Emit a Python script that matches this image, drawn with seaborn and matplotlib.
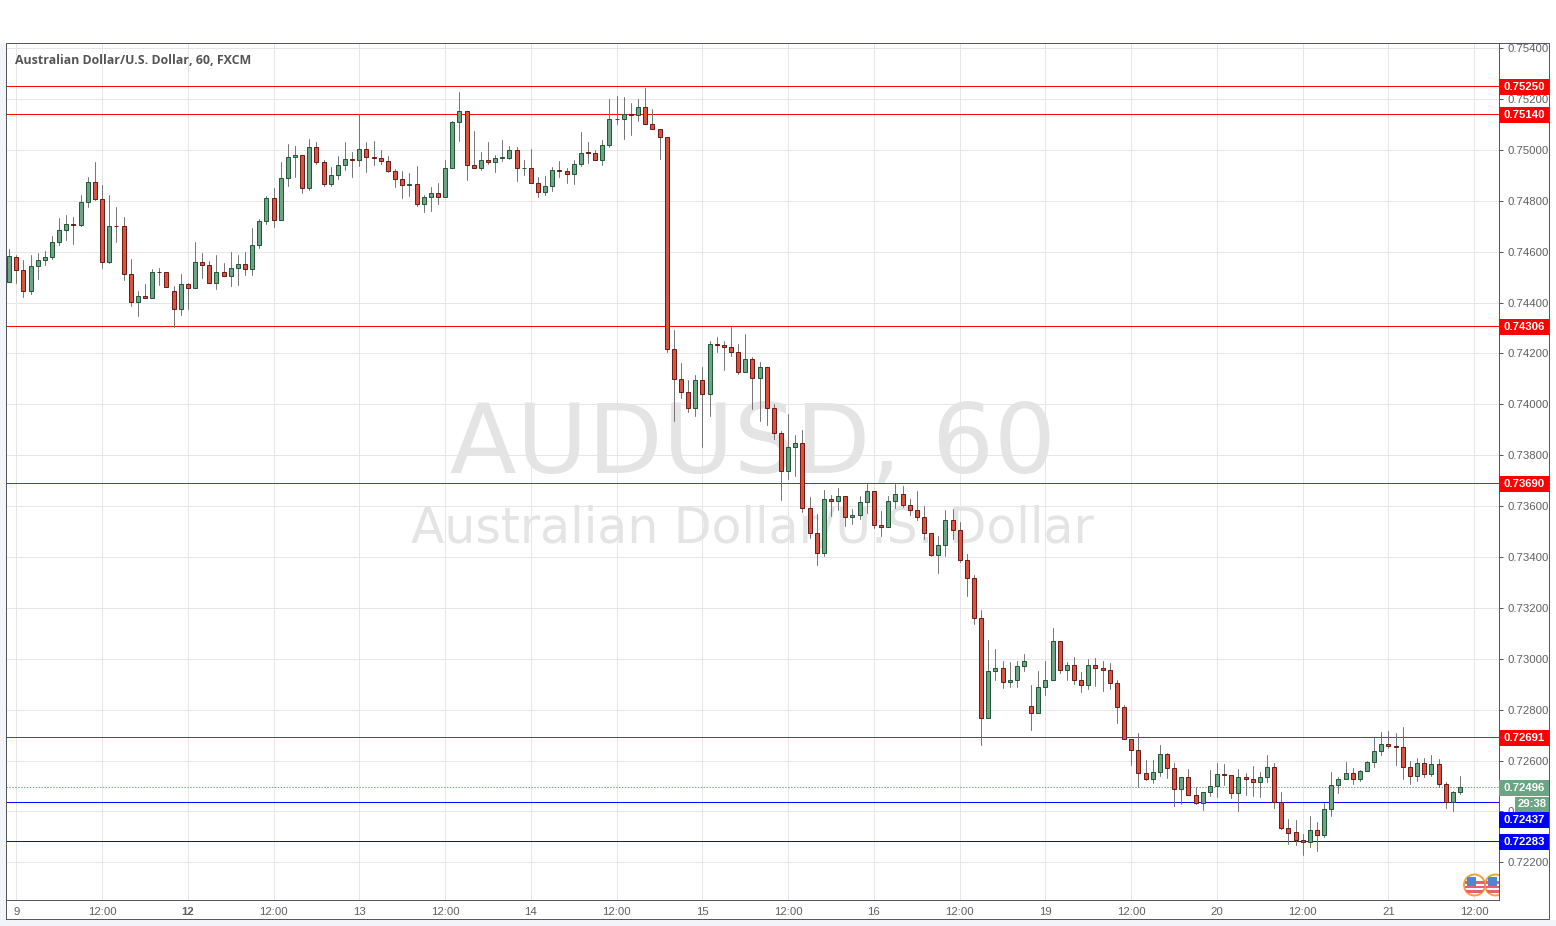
import numpy as np
import pandas as pd
import seaborn as sns
import matplotlib.pyplot as plt
from matplotlib.patches import Rectangle, Circle
from matplotlib.transforms import IdentityTransform

# AUD/USD hourly candles
opens = [
    0.74479, 0.74580, 0.74526, 0.74447, 0.74545, 0.74567, 0.74580, 0.74639, 0.74686, 0.74710, 0.74706, 0.74796,
    0.74875, 0.74808, 0.74561, 0.74702, 0.74702, 0.74514, 0.74404, 0.74424, 0.74416, 0.74522, 0.74522, 0.74447,
    0.74373, 0.74471, 0.74459, 0.74561, 0.74549, 0.74475, 0.74522, 0.74506, 0.74537, 0.74553, 0.74533, 0.74628,
    0.74722, 0.74812, 0.74726, 0.74890, 0.74973, 0.74980, 0.74851, 0.75012, 0.74953, 0.74867, 0.74902, 0.74940,
    0.74965, 0.74961, 0.75004, 0.74973, 0.74969, 0.74957, 0.74918, 0.74886, 0.74863, 0.74867, 0.74788, 0.74816,
    0.74831, 0.74816, 0.74929, 0.75110, 0.75153, 0.74941, 0.74929, 0.74961, 0.74952, 0.74969, 0.74970, 0.75000,
    0.74928, 0.74929, 0.74871, 0.74835, 0.74859, 0.74922, 0.74918, 0.74906, 0.74945, 0.74990, 0.74988, 0.74961,
    0.75020, 0.75120, 0.75122, 0.75141, 0.75137, 0.75169, 0.75102, 0.75082, 0.75051, 0.74216, 0.74098, 0.74047,
    0.73984, 0.74094, 0.74039, 0.74239, 0.74235, 0.74227, 0.74204, 0.74129, 0.74180, 0.74102, 0.74145, 0.73984,
    0.73886, 0.73737, 0.73831, 0.73847, 0.73592, 0.73494, 0.73416, 0.73627, 0.73620, 0.73639, 0.73557, 0.73565,
    0.73616, 0.73659, 0.73526, 0.73518, 0.73620, 0.73647, 0.73604, 0.73584, 0.73557, 0.73494, 0.73408, 0.73447,
    0.73545, 0.73506, 0.73388, 0.73318, 0.73161, 0.72769, 0.72953, 0.72965, 0.72910, 0.72918, 0.72973, 0.72816,
    0.72787, 0.72890, 0.72918, 0.73071, 0.72957, 0.72976, 0.72918, 0.72898, 0.72976, 0.72965, 0.72957, 0.72906,
    0.72812, 0.72686, 0.72643, 0.72553, 0.72528, 0.72557, 0.72627, 0.72569, 0.72490, 0.72537, 0.72463, 0.72435,
    0.72475, 0.72502, 0.72549, 0.72545, 0.72471, 0.72537, 0.72529, 0.72516, 0.72537, 0.72576, 0.72439, 0.72337,
    0.72318, 0.72289, 0.72282, 0.72329, 0.72309, 0.72408, 0.72506, 0.72529, 0.72553, 0.72529, 0.72561, 0.72596,
    0.72639, 0.72667, 0.72659, 0.72655, 0.72573, 0.72541, 0.72592, 0.72549, 0.72588, 0.72510, 0.72439, 0.72478,
]
highs = [
    0.74609, 0.74586, 0.74566, 0.74586, 0.74594, 0.74601, 0.74660, 0.74731, 0.74746, 0.74735, 0.74821, 0.74892,
    0.74954, 0.74860, 0.74821, 0.74774, 0.74735, 0.74570, 0.74445, 0.74472, 0.74531, 0.74535, 0.74522, 0.74464,
    0.74511, 0.74475, 0.74637, 0.74594, 0.74562, 0.74586, 0.74554, 0.74597, 0.74586, 0.74597, 0.74692, 0.74727,
    0.74817, 0.74852, 0.74954, 0.75025, 0.75017, 0.74980, 0.75041, 0.75029, 0.74962, 0.74931, 0.74974, 0.75029,
    0.74993, 0.75140, 0.75029, 0.75033, 0.75001, 0.74974, 0.74926, 0.74918, 0.74911, 0.74935, 0.74824, 0.74856,
    0.74868, 0.74962, 0.75115, 0.75229, 0.75153, 0.75076, 0.74993, 0.75029, 0.74978, 0.75037, 0.75017, 0.75013,
    0.74962, 0.75005, 0.74892, 0.74899, 0.74933, 0.74958, 0.74927, 0.74962, 0.75072, 0.75029, 0.75001, 0.75037,
    0.75201, 0.75213, 0.75209, 0.75186, 0.75201, 0.75244, 0.75162, 0.75082, 0.75051, 0.74291, 0.74162, 0.74094,
    0.74114, 0.74145, 0.74248, 0.74264, 0.74247, 0.74305, 0.74237, 0.74276, 0.74186, 0.74166, 0.74145, 0.74001,
    0.73895, 0.73962, 0.73880, 0.73899, 0.73637, 0.73570, 0.73664, 0.73644, 0.73672, 0.73639, 0.73590, 0.73641,
    0.73688, 0.73659, 0.73582, 0.73641, 0.73688, 0.73680, 0.73629, 0.73660, 0.73601, 0.73494, 0.73484, 0.73586,
    0.73590, 0.73539, 0.73413, 0.73329, 0.73193, 0.73072, 0.73040, 0.72993, 0.72986, 0.72990, 0.73017, 0.72899,
    0.72954, 0.72990, 0.73123, 0.73071, 0.72988, 0.73009, 0.72950, 0.73001, 0.73005, 0.72993, 0.72982, 0.72918,
    0.72818, 0.72686, 0.72707, 0.72601, 0.72601, 0.72660, 0.72631, 0.72592, 0.72537, 0.72566, 0.72498, 0.72478,
    0.72562, 0.72592, 0.72586, 0.72545, 0.72566, 0.72550, 0.72578, 0.72554, 0.72621, 0.72590, 0.72476, 0.72370,
    0.72366, 0.72310, 0.72382, 0.72358, 0.72433, 0.72554, 0.72537, 0.72593, 0.72570, 0.72565, 0.72600, 0.72691,
    0.72711, 0.72715, 0.72707, 0.72731, 0.72597, 0.72609, 0.72609, 0.72621, 0.72608, 0.72514, 0.72482, 0.72541,
]
lows = [
    0.74479, 0.74476, 0.74422, 0.74434, 0.74492, 0.74548, 0.74570, 0.74626, 0.74646, 0.74630, 0.74699, 0.74775,
    0.74803, 0.74536, 0.74556, 0.74638, 0.74489, 0.74387, 0.74348, 0.74416, 0.74416, 0.74469, 0.74463, 0.74305,
    0.74352, 0.74375, 0.74459, 0.74495, 0.74475, 0.74454, 0.74506, 0.74465, 0.74469, 0.74509, 0.74509, 0.74614,
    0.74709, 0.74697, 0.74726, 0.74858, 0.74893, 0.74830, 0.74842, 0.74944, 0.74858, 0.74858, 0.74885, 0.74920,
    0.74893, 0.74936, 0.74912, 0.74940, 0.74944, 0.74912, 0.74854, 0.74810, 0.74818, 0.74779, 0.74756, 0.74760,
    0.74787, 0.74816, 0.74929, 0.75034, 0.74881, 0.74929, 0.74920, 0.74944, 0.74912, 0.74956, 0.74966, 0.74877,
    0.74901, 0.74871, 0.74814, 0.74822, 0.74838, 0.74893, 0.74869, 0.74865, 0.74936, 0.74948, 0.74961, 0.74940,
    0.75010, 0.75101, 0.75042, 0.75058, 0.75112, 0.75102, 0.75082, 0.74963, 0.74206, 0.73936, 0.74025, 0.73970,
    0.73954, 0.73834, 0.73954, 0.74205, 0.74135, 0.74189, 0.74119, 0.74129, 0.73982, 0.73935, 0.73919, 0.73865,
    0.73625, 0.73707, 0.73719, 0.73575, 0.73476, 0.73370, 0.73405, 0.73562, 0.73586, 0.73523, 0.73531, 0.73550,
    0.73574, 0.73515, 0.73482, 0.73518, 0.73593, 0.73596, 0.73566, 0.73546, 0.73472, 0.73404, 0.73339, 0.73405,
    0.73472, 0.73382, 0.73246, 0.73136, 0.72661, 0.72769, 0.72916, 0.72885, 0.72889, 0.72889, 0.72952, 0.72719,
    0.72787, 0.72856, 0.72918, 0.72944, 0.72916, 0.72901, 0.72869, 0.72881, 0.72893, 0.72873, 0.72881, 0.72748,
    0.72686, 0.72583, 0.72498, 0.72522, 0.72511, 0.72540, 0.72532, 0.72422, 0.72430, 0.72463, 0.72431, 0.72407,
    0.72461, 0.72458, 0.72503, 0.72454, 0.72403, 0.72465, 0.72461, 0.72456, 0.72516, 0.72413, 0.72331, 0.72272,
    0.72268, 0.72229, 0.72260, 0.72244, 0.72299, 0.72382, 0.72472, 0.72529, 0.72507, 0.72519, 0.72558, 0.72574,
    0.72621, 0.72648, 0.72582, 0.72527, 0.72507, 0.72519, 0.72537, 0.72540, 0.72497, 0.72413, 0.72401, 0.72468,
]
closes = [
    0.74582, 0.74526, 0.74447, 0.74545, 0.74569, 0.74580, 0.74639, 0.74686, 0.74710, 0.74705, 0.74796, 0.74875,
    0.74808, 0.74561, 0.74702, 0.74701, 0.74514, 0.74404, 0.74424, 0.74416, 0.74522, 0.74520, 0.74463, 0.74373,
    0.74471, 0.74458, 0.74561, 0.74548, 0.74475, 0.74522, 0.74506, 0.74537, 0.74553, 0.74533, 0.74628, 0.74722,
    0.74812, 0.74726, 0.74890, 0.74973, 0.74980, 0.74851, 0.75012, 0.74953, 0.74867, 0.74902, 0.74941, 0.74965,
    0.74959, 0.75004, 0.74973, 0.74967, 0.74957, 0.74916, 0.74886, 0.74863, 0.74867, 0.74788, 0.74816, 0.74831,
    0.74816, 0.74929, 0.75110, 0.75153, 0.74941, 0.74929, 0.74961, 0.74952, 0.74969, 0.74973, 0.75000, 0.74929,
    0.74929, 0.74871, 0.74835, 0.74859, 0.74922, 0.74918, 0.74906, 0.74945, 0.74988, 0.74988, 0.74961, 0.75020,
    0.75122, 0.75122, 0.75141, 0.75137, 0.75169, 0.75102, 0.75082, 0.75051, 0.74216, 0.74098, 0.74047, 0.73984,
    0.74094, 0.74039, 0.74239, 0.74235, 0.74227, 0.74204, 0.74129, 0.74180, 0.74102, 0.74145, 0.73984, 0.73886,
    0.73737, 0.73831, 0.73847, 0.73592, 0.73494, 0.73416, 0.73627, 0.73620, 0.73639, 0.73557, 0.73565, 0.73616,
    0.73659, 0.73526, 0.73518, 0.73620, 0.73647, 0.73604, 0.73584, 0.73557, 0.73494, 0.73408, 0.73447, 0.73545,
    0.73506, 0.73388, 0.73318, 0.73161, 0.72769, 0.72953, 0.72965, 0.72910, 0.72918, 0.72973, 0.72992, 0.72787,
    0.72890, 0.72918, 0.73071, 0.72957, 0.72976, 0.72918, 0.72898, 0.72976, 0.72965, 0.72957, 0.72906, 0.72812,
    0.72686, 0.72643, 0.72553, 0.72528, 0.72557, 0.72627, 0.72569, 0.72490, 0.72537, 0.72463, 0.72435, 0.72475,
    0.72502, 0.72549, 0.72545, 0.72471, 0.72537, 0.72529, 0.72516, 0.72537, 0.72576, 0.72439, 0.72336, 0.72316,
    0.72289, 0.72281, 0.72329, 0.72309, 0.72408, 0.72506, 0.72529, 0.72553, 0.72529, 0.72561, 0.72596, 0.72639,
    0.72667, 0.72659, 0.72655, 0.72573, 0.72541, 0.72592, 0.72549, 0.72588, 0.72510, 0.72439, 0.72478, 0.72496,
]

# x axis: one label every 12 bars, starting at the second bar
tick_bars = [1, 13, 25, 37, 49, 61, 73, 85, 97, 109, 121, 133, 145, 157, 169, 181, 193, 205]
tick_labels = ["9", "12:00", "12", "12:00", "13", "12:00", "14", "12:00", "15", "12:00", "16", "12:00",
               "19", "12:00", "20", "12:00", "21", "12:00"]
bold_labels = ["12"]
price_ticks = [0.754, 0.752, 0.750, 0.748, 0.746, 0.744, 0.742, 0.740, 0.738, 0.736, 0.734, 0.732,
               0.730, 0.728, 0.726, 0.724, 0.722]

# support / resistance levels drawn by hand on the chart
red_levels = [0.75250, 0.75140, 0.74306, 0.73690, 0.72691]
blue_levels = [0.72437, 0.72283]
last_price = 0.72496

GREEN = "#6ba583"
GREEN_EDGE = "#225437"
RED = "#d75442"
RED_EDGE = "#6b1914"
WICK = "#737375"
GRID = "#e6e6e6"
TEXT = "#5f5f5f"
FRAME = "#50535e"
AXIS_FONT = "Liberation Sans"
THIN = 0.7  # just under one pixel, so agg snaps it to a crisp row

W, H = 1556, 926
# plot area in pixels
LEFT, RIGHT, TOP, BOTTOM = 6.2, 1499.2, 43.2, 900.2
PX_PER_PRICE = 25447

sns.set_theme(style="white")
plt.rcParams["font.family"] = ["Open Sans", "DejaVu Sans"]

fig = plt.figure(figsize=(W / 100, H / 100), dpi=100, facecolor="white")
fig.add_artist(Rectangle((0, 0), 1, (H - 920) / H, transform=fig.transFigure, color="#f1f4f8", lw=0))
fig.add_artist(Rectangle((0, 0), 6 / W, (H - 43) / H, transform=fig.transFigure, color="#f1f4f8", lw=0))
ax = fig.add_axes([LEFT / W, (H - BOTTOM) / H, (RIGHT - LEFT) / W, (BOTTOM - TOP) / H])

df = pd.DataFrame({"open": opens, "high": highs, "low": lows, "close": closes})
df["bar"] = np.arange(len(df))
df["body_low"] = df[["open", "close"]].min(axis=1)
df["body_size"] = (df["close"] - df["open"]).abs()
df["up"] = df["close"] > df["open"]

# wicks first, one low-high segment per bar
wicks = df.melt(id_vars="bar", value_vars=["low", "high"], value_name="price")
sns.lineplot(data=wicks, x="bar", y="price", units="bar", estimator=None, color=WICK,
             linewidth=THIN, legend=False, ax=ax, zorder=3)

# bodies
for up, fill, edge in [(True, GREEN, GREEN_EDGE), (False, RED, RED_EDGE)]:
    sub = df[df["up"] == up].sort_values("bar")
    sns.barplot(data=sub, x="bar", y="body_size", bottom=sub["body_low"].values, native_scale=True,
                color=fill, saturation=1, width=0.56, errorbar=None, edgecolor=edge, linewidth=THIN,
                legend=False, ax=ax, zorder=4)

for lvl in red_levels:
    ax.axhline(lvl, color="#ff0000", lw=THIN, zorder=2)
for lvl in blue_levels:
    ax.axhline(lvl, color="#0000ff", lw=THIN, zorder=2)
ax.axhline(last_price, color=GREEN, lw=THIN, ls=(0, (1.5, 1.5)), zorder=2)

ax.set_xlim(-0.413, 208.49)
ax.set_ylim(0.720514, 0.754192)
ax.set_xlabel("")
ax.set_ylabel("")
ax.set_xticks(tick_bars)
ax.set_xticklabels(tick_labels, family=AXIS_FONT)
ax.set_yticks(price_ticks)
ax.set_yticklabels([f"{p:.5f}" for p in price_ticks], family=AXIS_FONT)
ax.yaxis.tick_right()
ax.grid(True, color=GRID, lw=THIN, zorder=0)
ax.set_axisbelow(True)
ax.tick_params(axis="both", length=3, width=THIN, color=FRAME, labelcolor=TEXT, labelsize=8.2)
ax.tick_params(axis="x", pad=2)
ax.tick_params(axis="y", pad=3)
ax.spines["left"].set_visible(False)
ax.spines["top"].set_visible(False)
for side in ["right", "bottom"]:
    ax.spines[side].set_color(FRAME)
    ax.spines[side].set_linewidth(THIN)
for lab, txt in zip(ax.get_xticklabels(), tick_labels):
    if txt in bold_labels:
        lab.set_fontweight("bold")

# watermark
ax.text(0.5, 0.529, "AUDUSD, 60", transform=ax.transAxes, family="DejaVu Sans", fontsize=70, color="#e4e4e4",
        ha="center", va="center", zorder=1)
ax.text(0.5, 0.433, "Australian Dollar/U.S. Dollar", transform=ax.transAxes, family="DejaVu Sans", fontsize=35.2,
        color="#e4e4e4", ha="center", va="center", zorder=1)
fig.text(15 / W, (H - 61) / H, "Australian Dollar/U.S. Dollar, 60, FXCM", fontsize=8.9, fontweight="bold",
         color="#555555", va="center", ha="left")

# price tags on the right scale, tag_w in axes fraction and tag_h in price units
plot_w = RIGHT - LEFT
tag_w = 50 / plot_w
tag_h = 16 / PX_PER_PRICE
half_px = 0.5 / PX_PER_PRICE
ytrans = ax.get_yaxis_transform()


def price_tag(y, label, color):
    y = y - half_px
    ax.add_patch(Rectangle((1.0, y - tag_h / 2), tag_w, tag_h, transform=ytrans, color=color, lw=0,
                           clip_on=False, zorder=6))
    ax.text(1.0 + tag_w / 2, y, label, transform=ytrans, color="white", fontsize=8.2, fontweight="bold",
            family=AXIS_FONT, ha="center", va="center", clip_on=False, zorder=7)


for lvl in red_levels:
    price_tag(lvl, f"{lvl:.5f}", "#ff0000")
price_tag(last_price, f"{last_price:.5f}", GREEN)
# the 0.72437 tag is pushed down on the scale so it clears the countdown
price_tag(0.72367, "0.72437", "#0000ff")
price_tag(0.72283, "0.72283", "#0000ff")
countdown_y = 0.724275
countdown_h = 14.4 / PX_PER_PRICE
ax.add_patch(Rectangle((1 + 15.8 / plot_w, countdown_y - countdown_h / 2), 34.2 / plot_w, countdown_h,
                       transform=ytrans, color=GREEN, lw=0, clip_on=False, zorder=6))
ax.text(1 + 32.9 / plot_w, countdown_y, "29:38", transform=ytrans, color="white", fontsize=8.2,
        fontweight="bold", family=AXIS_FONT, ha="center", va="center", clip_on=False, zorder=7)


# little US event flags at the bottom
def flag(cx, cy):
    cy = H - cy
    idt = IdentityTransform()
    ring = Circle((cx, cy), 10.5, transform=idt, fc="white", ec="#f4a13a", lw=1.4, zorder=5)
    ax.add_patch(ring)
    for dy in [-6, -1.5, 3]:
        s = Rectangle((cx - 10, cy + dy - 1.5), 20, 2.5, transform=idt, color="#e8606a", lw=0, zorder=5.1)
        ax.add_patch(s)
        s.set_clip_path(ring)
    b = Rectangle((cx - 8, cy - 1), 9, 9, transform=idt, color="#4f86d0", lw=0, zorder=5.2)
    ax.add_patch(b)
    b.set_clip_path(ring)


flag(1474.5, 885)
flag(1495.5, 885)

# outer frame of the widget
fig.add_artist(plt.Line2D([LEFT / W, LEFT / W, 1549.2 / W, 1549.2 / W, LEFT / W],
                          [(H - 919.2) / H, (H - TOP) / H, (H - TOP) / H, (H - 919.2) / H, (H - 919.2) / H],
                          transform=fig.transFigure, color=FRAME, lw=THIN))

fig.savefig("out.png", dpi=100, facecolor=fig.get_facecolor())
